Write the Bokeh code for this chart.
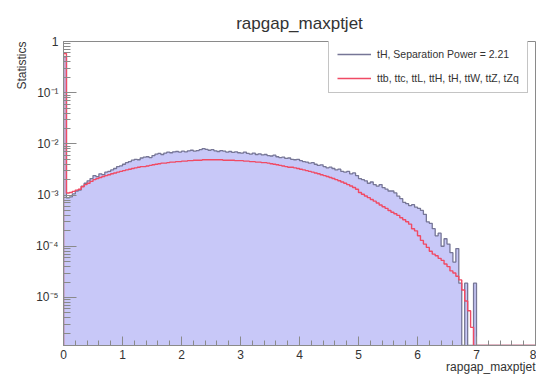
from bokeh.plotting import figure
from bokeh.models import (Range1d, FixedTicker, CustomJSTickFormatter, Legend, LegendItem, Title)
from bokeh.embed import file_html
from bokeh.resources import INLINE

# ---------------- data ----------------
x_min = 0.0
x_max = 8.0
n_bins = 160
title_text = "rapgap_maxptjet"
x_label = "rapgap_maxptjet"
y_label = "Statistics"
sig_label = "tH, Separation Power = 2.21"
bkg_label = "ttb, ttc, ttL, ttH, tH, ttW, ttZ, tZq"

signal = [
    0.5, 0.00088, 0.00092, 0.00105, 0.0012, 0.00125, 0.0015, 0.0017, 0.0019, 0.0021,
    0.0024, 0.0023, 0.0026, 0.0025, 0.0028, 0.0029, 0.0031, 0.0033, 0.0036, 0.0037,
    0.0040, 0.0043, 0.0045, 0.0048, 0.0050, 0.0049, 0.0053, 0.0055, 0.0056, 0.0054,
    0.0059, 0.0063, 0.0065, 0.0062, 0.0066, 0.0069, 0.0067, 0.0070, 0.0071, 0.0069,
    0.0072, 0.0070, 0.0073, 0.0075, 0.0072, 0.0074, 0.0077, 0.0081, 0.0078, 0.0075,
    0.0077, 0.0073, 0.0071, 0.0074, 0.0072, 0.0069, 0.0071, 0.0068, 0.0070, 0.0067,
    0.0066, 0.0069, 0.0065, 0.0063, 0.0066, 0.0062, 0.0064, 0.0061, 0.0062, 0.0059,
    0.0058, 0.0060, 0.0056, 0.0054, 0.0055, 0.0052, 0.0053, 0.0050, 0.0049, 0.0050,
    0.0047, 0.0045, 0.0044, 0.0042, 0.0043, 0.0040, 0.0038, 0.0039, 0.0036, 0.0034,
    0.0035, 0.0033, 0.0031, 0.0032, 0.0029, 0.0028, 0.0029, 0.0026, 0.0027, 0.0024,
    0.0021, 0.0020, 0.0019, 0.0017, 0.0018, 0.0016, 0.0015, 0.0016, 0.0014, 0.0013,
    0.0012, 0.0012, 0.0011, 0.00095, 0.00085, 0.00072, 0.00068, 0.00062, 0.00065, 0.00058,
    0.00055, 0.00050, 0.00042, 0.00030, 0.00028, 0.00022, 0.00016, 0.00018, 0.00010, 0.00014,
    0.00011, 0.000075, 0.000049, 0.00009, 0.000019, 0.0, 0.000019, 0.0, 0.0, 0.000019,
    0.0, 0.0, 0.0, 0.0, 0.0, 0.0, 0.0, 0.0, 0.0, 0.0,
    0.0, 0.0, 0.0, 0.0, 0.0, 0.0, 0.0, 0.0, 0.0, 0.0,
]

background = [
    0.58, 0.0011, 0.00112, 0.00118, 0.00125, 0.0013, 0.00145, 0.0016, 0.0017, 0.00185,
    0.0020, 0.0021, 0.0022, 0.0023, 0.0024, 0.0025, 0.0026, 0.0027, 0.0028, 0.0029,
    0.0030, 0.0031, 0.0032, 0.0033, 0.0034, 0.0035, 0.0036, 0.0036, 0.0037, 0.0038,
    0.0039, 0.0040, 0.0041, 0.0042, 0.0042, 0.0043, 0.0044, 0.0044, 0.0045, 0.0045,
    0.0046, 0.0046, 0.0047, 0.0047, 0.0048, 0.0048, 0.0048, 0.0049, 0.0049, 0.0049,
    0.0049, 0.0049, 0.0049, 0.0049, 0.0048, 0.0048, 0.0048, 0.0048, 0.0047, 0.0047,
    0.0047, 0.0046, 0.0046, 0.0045, 0.0045, 0.0044, 0.0044, 0.0043, 0.0043, 0.0042,
    0.0041, 0.0040, 0.0039, 0.0038, 0.0037, 0.0036, 0.0035, 0.0035, 0.0034, 0.0033,
    0.0032, 0.0031, 0.0030, 0.0029, 0.0028, 0.0027, 0.0026, 0.0025, 0.0024, 0.0023,
    0.0022, 0.0021, 0.0020, 0.0019, 0.0018, 0.0017, 0.0016, 0.0015, 0.0014, 0.0013,
    0.00112, 0.00104, 0.00096, 0.00089, 0.00082, 0.00076, 0.0007, 0.00064, 0.00059, 0.00055,
    0.0005, 0.00046, 0.00043, 0.0004, 0.00036, 0.00033, 0.0003, 0.00027, 0.00022, 0.0002,
    0.00016, 0.00013, 0.00011, 0.000095, 0.00008, 0.00007, 0.000065, 0.000058, 0.000053, 0.000045,
    0.00004, 0.000033, 0.00003, 0.000026, 0.000022, 0.000014, 0.0000085, 0.0000055, 0.0000026, 0.0,
    0.0, 0.0, 0.0, 0.0, 0.0, 0.0, 0.0, 0.0, 0.0, 0.0,
    0.0, 0.0, 0.0, 0.0, 0.0, 0.0, 0.0, 0.0, 0.0, 0.0,
]

y_major = [1e-5, 1e-4, 1e-3, 1e-2, 1e-1, 1.0]

# ---------------- styling ----------------
Y_LOW = 1.15e-6
Y_HIGH = 1.0
FONT = "Liberation Sans"
TXT = "#333333"
AXC = "#8a8a8a"
BLUE_LINE = "#767696"
BLUE_FILL = "#c8c8f8"
RED_LINE = "#f04a64"

p = figure(width=536, height=375, output_backend="svg", toolbar_location=None,
           x_range=Range1d(x_min, x_max), y_range=Range1d(Y_LOW, Y_HIGH),
           y_axis_type="log", min_border_left=63, min_border_right=1,
           min_border_top=41, min_border_bottom=30)
p.background_fill_color = "white"
p.border_fill_color = "white"
p.outline_line_color = AXC
p.grid.visible = False

width = (x_max - x_min) / n_bins
lefts = [x_min + i * width for i in range(n_bins)]
rights = [x_min + (i + 1) * width for i in range(n_bins)]
FLOOR = Y_LOW * 0.999

def clip(v):
    return v if v > Y_LOW else FLOOR

sig_top = [clip(v) for v in signal]
bkg_top = [clip(v) for v in background]

def step_path(vals):
    xs, ys = [lefts[0]], [FLOOR]
    for l, r, v in zip(lefts, rights, vals):
        xs += [l, r]
        ys += [v, v]
    xs.append(rights[-1]); ys.append(FLOOR)
    return xs, ys

sx, sy = step_path(sig_top)
bx, by = step_path(bkg_top)
p.patch(sx, sy, fill_color=BLUE_FILL, line_color=None)
r_sig = p.line(sx, sy, line_color=BLUE_LINE, line_width=1.3)
r_bkg = p.line(bx, by, line_color=RED_LINE, line_width=1.4)

# axes
xa = p.xaxis[0]
xa.ticker = FixedTicker(ticks=list(range(0, 9)), minor_ticks=[i * 0.2 for i in range(41)])
ya = p.yaxis[0]
minor = []
for e in range(-6, 1):
    for k in range(2, 10):
        minor.append(k * 10.0 ** e)
ya.ticker = FixedTicker(ticks=y_major, minor_ticks=minor)
ya.formatter = CustomJSTickFormatter(code="""
const e = Math.round(Math.log10(tick));
if (e === 0) return "1";
const sup = {"-":"\u207B","0":"\u2070","1":"\u00B9","2":"\u00B2","3":"\u00B3","4":"\u2074","5":"\u2075","6":"\u2076","7":"\u2077","8":"\u2078","9":"\u2079"};
return "10" + String(e).split("").map(c => sup[c]).join("");
""")
for ax in (xa, ya):
    ax.axis_line_color = AXC
    ax.major_tick_line_color = AXC
    ax.minor_tick_line_color = AXC
    ax.major_tick_out = 0
    ax.minor_tick_out = 0
    ax.major_label_text_font = FONT
    ax.major_label_text_font_size = "12px"
    ax.major_label_text_color = TXT
    ax.major_label_standoff = 5
xa.major_tick_in = 9
xa.minor_tick_in = 5
ya.major_tick_in = 13
ya.minor_tick_in = 7
xa.major_label_standoff = 4

# legend
leg = Legend(items=[LegendItem(label=sig_label, renderers=[r_sig]),
                    LegendItem(label=bkg_label, renderers=[r_bkg])],
             location=(265, 252), padding=8, spacing=12, margin=0,
             glyph_width=34, glyph_height=12, label_height=12, label_standoff=6,
             label_text_font=FONT, label_text_font_size="10.5px", label_text_color=TXT,
             border_line_color=AXC, border_line_width=1, background_fill_color="white",
             background_fill_alpha=1.0)
p.add_layout(leg, "center")

# title and axis titles
p.title = Title(text=title_text, align="center", text_font=FONT, text_font_size="17px",
                text_color=TXT, text_font_style="normal", standoff=17)
p.add_layout(Title(text=y_label, align="right", text_font=FONT, text_font_size="12px",
                   text_color=TXT, text_font_style="normal", standoff=8), "left")
p.add_layout(Title(text=x_label, align="right", text_font=FONT, text_font_size="12px",
                   text_color=TXT, text_font_style="normal", standoff=-7), "below")

open("out.html", "w").write(file_html(p, INLINE))
